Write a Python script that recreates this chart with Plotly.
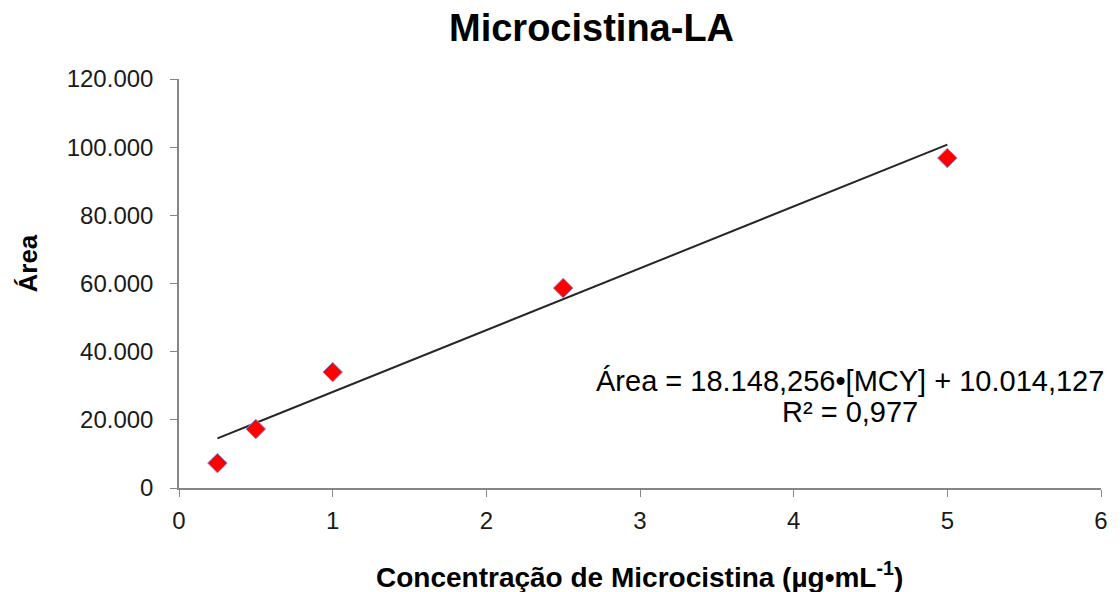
import plotly.graph_objects as go

conc = [0.25, 0.5, 1, 2.5, 5]
area = [7300, 17300, 34000, 58650, 96800]
slope = 18148.256
intercept = 10014.127
eq_line1 = "Área = 18.148,256•[MCY] + 10.014,127"
eq_line2 = "R² = 0,977"
trend_x = [0.25, 5]
trend_y = [slope * x + intercept for x in trend_x]
x_ticks = [0, 1, 2, 3, 4, 5, 6]
y_ticks = [0, 20000, 40000, 60000, 80000, 100000, 120000]

FONT = "Liberation Sans, Arial"
L, R, T, B = 179, 1104, 79, 488

def px(xs):
    return (xs - L) / (R - L)

def py(ys):
    return (B - ys) / (B - T)

fig = go.Figure()
fig.add_trace(go.Scatter(x=trend_x, y=trend_y, mode="lines",
                         line=dict(color="#262626", width=2), showlegend=False, hoverinfo="skip"))
fig.add_trace(go.Scatter(x=conc, y=area, mode="markers",
                         marker=dict(symbol="diamond", size=15, color="#ff0000",
                                     line=dict(color="#8a8ad0", width=1)),
                         showlegend=False))

axis_font = dict(family=FONT, size=24, color="#1a1a1a")
fig.update_layout(
    width=1112, height=584,
    margin=dict(l=L - 8, r=1112 - (R - 8), t=T - 8, b=584 - (B - 8)),
    paper_bgcolor="white", plot_bgcolor="white",
    separators=",.",
    font=dict(family=FONT, color="#000000"),
    xaxis=dict(range=[0, 6], tickvals=x_ticks, showgrid=False, zeroline=False,
               showline=True, linecolor="#868686", linewidth=1.5, ticks="outside", ticklen=7,
               tickcolor="#868686", tickfont=axis_font, ticklabelstandoff=3),
    yaxis=dict(range=[0, 120000], tickvals=y_ticks,
               tickformat=",d", showgrid=False, zeroline=False,
               showline=True, linecolor="#868686", linewidth=1.5, ticks="outside", ticklen=7,
               tickcolor="#868686", tickfont=axis_font, ticklabelstandoff=12),
)

fig.add_annotation(x=px(593), y=py(28), xref="paper", yref="paper", showarrow=False,
                   text="<b>Microcistina-LA</b>", xanchor="center", yanchor="middle",
                   font=dict(size=38, family=FONT, color="#000000"))
fig.add_annotation(x=px(641), y=py(575), xref="paper", yref="paper", showarrow=False,
                   text="<b>Concentração de Microcistina (µg•mL<sup>-1</sup>)</b>",
                   xanchor="center", yanchor="middle",
                   font=dict(size=28, family=FONT, color="#000000"))
fig.add_annotation(x=px(28), y=py(263), xref="paper", yref="paper", showarrow=False,
                   text="<b>Área</b>", textangle=-90, xanchor="center", yanchor="middle",
                   font=dict(size=26, family=FONT, color="#000000"))
fig.add_annotation(x=px(852), y=py(381), xref="paper", yref="paper", showarrow=False,
                   text=eq_line1, xanchor="center", yanchor="middle",
                   font=dict(size=29, family=FONT, color="#000000"))
fig.add_annotation(x=px(852), y=py(412), xref="paper", yref="paper", showarrow=False,
                   text=eq_line2, xanchor="center", yanchor="middle",
                   font=dict(size=29, family=FONT, color="#000000"))

fig.write_html("out.html")
